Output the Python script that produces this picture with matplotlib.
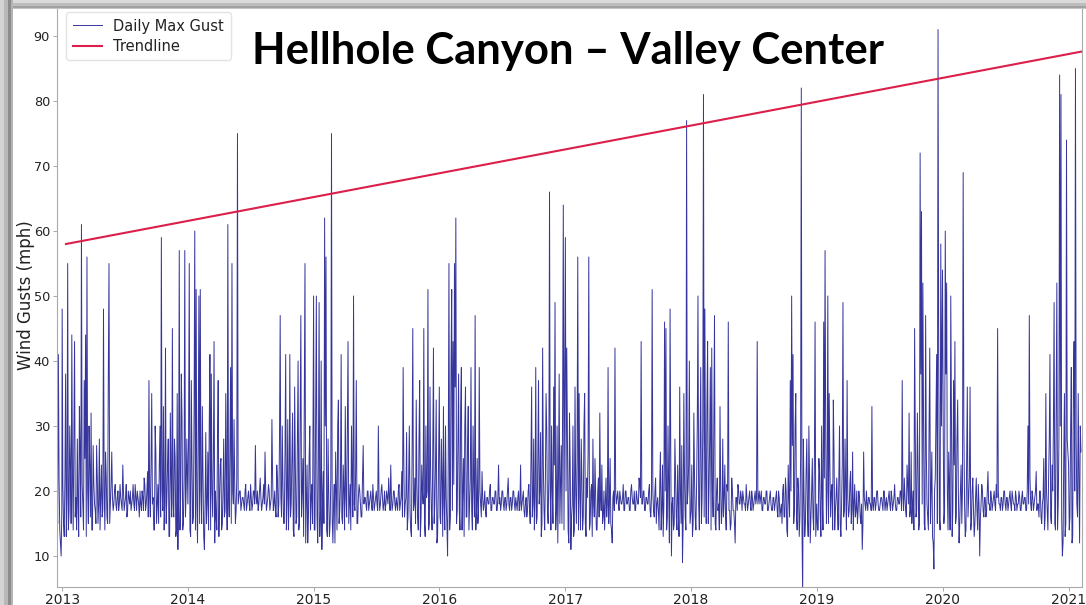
import numpy as np
import pandas as pd
import matplotlib
matplotlib.use("Agg")
import matplotlib.pyplot as plt
from matplotlib.patches import Rectangle

# ---------------- data: daily max gust, read every 2 days ----------------
# "gust_YYYY" = days 0,4,8,... of the year ; "mid_YYYY" = days 2,6,10,...
gust_2012 = [18, 41, 14, 10]
mid_2012 = [15, 22, 12, 17]

gust_2013 = [48, 15, 22, 13, 55, 17, 24, 44, 14, 43,
             19, 28, 13, 26, 61, 18, 37, 44, 56, 15,
             24, 32, 14, 21, 17, 27, 15, 28, 19, 16,
             48, 14, 22, 15, 55, 18, 26, 17, 20, 18,
             19, 17, 21, 18, 24, 17, 19, 16, 20, 18,
             17, 19, 18, 21, 17, 19, 16, 18, 20, 17,
             21, 18, 23, 37, 16, 35, 19, 14, 26, 18,
             15, 30, 59, 17, 14, 42, 19, 28, 13, 22,
             45, 16, 25, 14, 11, 57, 19, 31, 15, 57, 20]
mid_2013 = [21, 13, 38, 19, 14, 30, 15, 22, 28, 16,
            14, 18, 33, 16, 21, 14, 25, 13, 20, 30,
            16, 14, 27, 18, 15, 22, 18, 14, 24, 17,
            20, 26, 16, 38, 15, 21, 19, 18, 21, 17,
            20, 18, 19, 17, 20, 18, 21, 17, 19, 20,
            18, 21, 17, 19, 20, 18, 20, 17, 19, 22,
            17, 20, 16, 19, 24, 18, 14, 30, 15, 21,
            24, 16, 20, 33, 18, 15, 24, 13, 32, 16,
            18, 28, 13, 35, 20, 14, 38, 14, 22, 16, 28]

gust_2014 = [18, 55, 13, 24, 16, 60, 51, 12, 50, 51,
             15, 22, 11, 29, 18, 14, 41, 38, 16, 43,
             20, 14, 37, 19, 25, 15, 28, 17, 22, 61,
             16, 39, 55, 18, 21, 17, 75, 19, 20, 18,
             19, 17, 21, 18, 20, 17, 19, 18, 20, 27,
             18, 17, 20, 19, 18, 21, 26, 17, 19, 20,
             18, 31, 17, 20, 16, 22, 18, 47, 16, 21,
             15, 41, 19, 14, 41, 18, 32, 13, 24, 16,
             40, 15, 47, 20, 13, 55, 18, 12, 25, 14, 21]
mid_2014 = [28, 14, 37, 15, 32, 14, 18, 27, 15, 20,
            33, 13, 18, 15, 26, 30, 14, 20, 25, 12,
            16, 28, 13, 24, 14, 20, 16, 35, 14, 19,
            26, 15, 20, 31, 15, 22, 18, 20, 17, 19,
            18, 20, 17, 19, 18, 21, 17, 20, 18, 19,
            20, 18, 22, 17, 19, 18, 20, 18, 21, 17,
            19, 22, 18, 17, 24, 16, 28, 19, 30, 15,
            26, 14, 31, 19, 16, 25, 14, 36, 15, 28,
            14, 30, 16, 25, 33, 12, 24, 16, 30, 19, 15]

gust_2015 = [50, 14, 50, 12, 49, 17, 11, 23, 62, 56,
             13, 19, 15, 75, 12, 21, 26, 14, 34, 17,
             41, 15, 20, 33, 16, 43, 18, 14, 22, 50,
             17, 37, 15, 21, 18, 16, 27, 19, 18, 20,
             17, 19, 18, 21, 17, 19, 18, 30, 17, 20,
             19, 18, 17, 20, 18, 19, 24, 17, 20, 18,
             19, 17, 21, 18, 23, 39, 16, 19, 14, 22,
             17, 13, 45, 18, 15, 21, 14, 37, 16, 20,
             45, 13, 19, 51, 15, 22, 14, 42, 18, 34, 13]
mid_2015 = [14, 33, 16, 25, 13, 40, 19, 15, 30, 14,
            28, 13, 22, 16, 18, 12, 20, 30, 15, 21,
            16, 24, 14, 19, 29, 15, 21, 30, 16, 18,
            23, 15, 19, 20, 16, 22, 18, 19, 17, 20,
            18, 20, 17, 19, 18, 20, 17, 19, 18, 21,
            17, 20, 18, 19, 22, 17, 19, 18, 20, 17,
            18, 20, 17, 19, 16, 24, 18, 29, 16, 30,
            14, 26, 17, 22, 34, 16, 28, 13, 24, 18,
            15, 30, 20, 14, 36, 17, 26, 15, 24, 12, 20]

gust_2016 = [36, 15, 22, 33, 14, 19, 10, 55, 16, 51,
             43, 55, 62, 17, 38, 14, 39, 20, 13, 36,
             16, 33, 18, 39, 14, 21, 47, 17, 15, 39,
             18, 23, 17, 20, 16, 19, 18, 21, 17, 19,
             18, 20, 17, 24, 19, 18, 20, 17, 19, 18,
             22, 17, 19, 18, 20, 17, 18, 19, 17, 24,
             18, 20, 16, 19, 17, 21, 15, 36, 18, 14,
             39, 16, 37, 20, 13, 42, 17, 22, 29, 15,
             66, 14, 20, 36, 49, 17, 12, 38, 21, 15, 64]
mid_2016 = [16, 28, 13, 18, 30, 15, 25, 14, 39, 17,
            21, 36, 15, 28, 17, 33, 14, 25, 30, 16,
            27, 14, 22, 17, 30, 16, 14, 25, 17, 20,
            16, 19, 18, 17, 19, 18, 20, 17, 19, 18,
            20, 17, 19, 18, 17, 20, 18, 19, 17, 20,
            18, 19, 17, 20, 18, 19, 17, 20, 18, 17,
            19, 17, 18, 16, 20, 17, 24, 16, 28, 19,
            15, 25, 18, 29, 15, 24, 14, 35, 17, 22,
            20, 30, 15, 24, 14, 30, 22, 15, 27, 33, 14]

gust_2017 = [59, 42, 14, 32, 11, 18, 13, 36, 15, 56,
             35, 14, 22, 16, 35, 13, 19, 56, 15, 21,
             28, 16, 19, 14, 22, 32, 17, 15, 20, 18,
             16, 39, 19, 15, 12, 20, 42, 18, 20, 17,
             19, 18, 21, 17, 20, 18, 19, 17, 21, 18,
             20, 17, 19, 18, 21, 43, 18, 20, 17, 19,
             18, 21, 16, 51, 17, 20, 15, 19, 14, 26,
             17, 13, 46, 45, 16, 20, 48, 10, 19, 15,
             22, 14, 18, 36, 15, 9, 35, 16, 77, 20, 40]
mid_2017 = [20, 28, 12, 24, 16, 30, 14, 20, 25, 14,
            19, 28, 14, 30, 15, 22, 26, 14, 20, 13,
            18, 25, 14, 20, 16, 19, 24, 16, 14, 22,
            18, 15, 25, 14, 19, 17, 20, 19, 18, 20,
            18, 19, 17, 20, 18, 19, 17, 20, 19, 18,
            17, 20, 18, 22, 19, 18, 20, 17, 19, 18,
            20, 17, 19, 20, 16, 22, 18, 17, 21, 14,
            24, 18, 20, 14, 30, 12, 26, 18, 14, 28,
            16, 24, 13, 20, 27, 15, 22, 14, 18, 24, 15]

gust_2018 = [17, 13, 32, 16, 21, 50, 14, 39, 19, 81,
             48, 15, 43, 20, 39, 42, 16, 47, 14, 22,
             18, 33, 15, 28, 19, 16, 21, 46, 17, 15,
             20, 17, 12, 19, 21, 18, 20, 17, 19, 18,
             21, 17, 19, 18, 20, 17, 19, 18, 43, 19,
             18, 20, 17, 19, 18, 20, 17, 19, 18, 17,
             19, 18, 20, 16, 19, 17, 15, 21, 16, 20,
             13, 19, 37, 50, 41, 17, 35, 14, 20, 16,
             82, 4, 19, 15, 28, 13, 22, 16, 25, 14, 46]
mid_2018 = [24, 15, 22, 14, 30, 18, 26, 15, 30, 16,
            22, 33, 15, 28, 14, 20, 30, 15, 20, 17,
            14, 20, 17, 16, 24, 14, 20, 17, 14, 22,
            17, 15, 19, 17, 20, 18, 19, 20, 18, 17,
            19, 18, 20, 17, 19, 18, 20, 19, 18, 20,
            19, 17, 19, 18, 20, 17, 18, 20, 17, 19,
            17, 19, 17, 20, 16, 18, 20, 16, 22, 14,
            24, 16, 20, 27, 15, 30, 16, 22, 13, 25,
            14, 28, 13, 23, 16, 30, 12, 20, 16, 24, 13]

gust_2019 = [18, 14, 23, 13, 19, 46, 57, 15, 50, 35,
             16, 21, 34, 14, 19, 17, 22, 15, 18, 49,
             17, 20, 37, 16, 21, 15, 26, 18, 16, 20,
             17, 19, 15, 11, 26, 18, 20, 17, 19, 18,
             33, 17, 19, 18, 20, 17, 18, 19, 17, 20,
             18, 17, 19, 18, 20, 17, 19, 18, 17, 19,
             18, 20, 37, 17, 19, 16, 21, 32, 17, 15,
             20, 45, 16, 32, 14, 72, 63, 52, 15, 47,
             18, 14, 42, 20, 13, 8, 22, 41, 91, 16, 58]
mid_2019 = [14, 25, 16, 30, 14, 22, 28, 20, 15, 24,
            20, 14, 26, 17, 22, 14, 30, 13, 24, 16,
            28, 14, 19, 17, 23, 17, 14, 21, 17, 15,
            20, 16, 18, 15, 19, 17, 18, 19, 18, 17,
            18, 19, 17, 20, 18, 17, 19, 18, 20, 17,
            19, 18, 20, 17, 19, 18, 21, 17, 19, 18,
            20, 17, 19, 22, 17, 24, 18, 16, 26, 18,
            14, 28, 17, 24, 15, 38, 18, 30, 14, 26,
            16, 30, 15, 26, 12, 20, 32, 15, 40, 14, 30]

gust_2020 = [54, 15, 60, 52, 14, 21, 50, 13, 37, 43,
             16, 34, 12, 20, 15, 69, 18, 14, 36, 19,
             36, 15, 22, 13, 19, 17, 21, 10, 18, 20,
             16, 19, 17, 23, 18, 20, 17, 19, 18, 21,
             45, 18, 17, 19, 18, 20, 17, 19, 18, 20,
             17, 19, 18, 20, 17, 18, 19, 17, 20, 18,
             19, 17, 30, 47, 18, 20, 17, 19, 23, 18,
             16, 20, 15, 19, 14, 35, 17, 22, 41, 15,
             20, 49, 14, 52, 18, 84, 81, 10, 25, 13, 74]
mid_2020 = [30, 17, 38, 20, 26, 14, 30, 17, 24, 15,
            28, 20, 15, 24, 20, 30, 13, 24, 16, 22,
            14, 20, 17, 15, 22, 14, 18, 16, 21, 17,
            19, 16, 20, 18, 17, 19, 18, 20, 17, 19,
            20, 18, 19, 17, 20, 18, 19, 17, 19, 18,
            20, 18, 17, 19, 18, 20, 17, 19, 18, 19,
            17, 20, 18, 22, 17, 19, 18, 20, 17, 18,
            20, 16, 18, 25, 16, 20, 14, 28, 16, 24,
            30, 15, 33, 14, 28, 30, 16, 12, 35, 15, 28]

gust_2021 = [24, 16, 39, 13, 43, 85, 18, 35, 12, 26]
mid_2021 = [14, 30, 12, 36, 20, 28, 16, 22, 30]

series_starts = ["2012-12-17", "2013-01-01", "2014-01-01", "2015-01-01", "2016-01-01",
                 "2017-01-01", "2018-01-01", "2019-01-01", "2020-01-01", "2021-01-01"]
series_values = [gust_2012, gust_2013, gust_2014, gust_2015, gust_2016,
                 gust_2017, gust_2018, gust_2019, gust_2020, gust_2021]
series_mid = [mid_2012, mid_2013, mid_2014, mid_2015, mid_2016,
              mid_2017, mid_2018, mid_2019, mid_2020, mid_2021]

trend_dates = ["2013-01-12", "2021-02-07"]
trend_values = [58.0, 87.6]

year_ticks = ["2013", "2014", "2015", "2016", "2017", "2018", "2019", "2020", "2021"]
y_ticks = [10, 20, 30, 40, 50, 60, 70, 80, 90]

title_text = "Hellhole Canyon \u2013 Valley Center"

# ---------------- build series ----------------
parts = []
for start, v, m in zip(series_starts, series_values, series_mid):
    s0 = pd.Timestamp(start)
    parts.append(pd.Series(v, index=pd.date_range(start=s0, periods=len(v), freq="4D")))
    parts.append(pd.Series(m, index=pd.date_range(start=s0 + pd.Timedelta(days=2),
                                                   periods=len(m), freq="4D")))
gust = pd.concat(parts).sort_index()

# ---------------- figure ----------------
W, H = 1086, 605
fig = plt.figure(figsize=(W / 100, H / 100), dpi=100, facecolor="white")

def fx(px):
    return px / W

def fy(py):
    return 1 - py / H

ax_left, ax_right, ax_bottom, ax_top = 57, 1082, 587, -10
ax = fig.add_axes([fx(ax_left), fy(ax_bottom), fx(ax_right - ax_left), (ax_bottom - ax_top) / H])

ax.plot(gust.index, gust.values, color="#12128c", lw=0.7, alpha=0.85, label="Daily Max Gust")
ax.plot(pd.to_datetime(trend_dates), trend_values, color="#dc1f4a", lw=1.5, label="Trendline")

ax.set_xlim(pd.Timestamp("2012-12-17"), pd.Timestamp("2021-02-09"))
ax.set_ylim(5.23, 97.08)
ax.set_yticks(y_ticks)
ax.set_yticklabels([str(t) for t in y_ticks])
ax.set_xticks(pd.to_datetime([f"{y}-01-01" for y in year_ticks]))
ax.set_xticklabels(year_ticks)
ax.tick_params(axis="both", labelcolor="#222222", length=3, width=0.6, color="#999999")
ax.tick_params(axis="x", labelsize=10, pad=1)
ax.tick_params(axis="y", labelsize=9.3, pad=2)

ax.spines["top"].set_visible(False)
for side in ["left", "bottom", "right"]:
    ax.spines[side].set_color("#aaaaaa")
    ax.spines[side].set_linewidth(0.8)

ax.set_ylabel("Wind Gusts (mph)", fontsize=12, color="#222222", va="center")
ax.yaxis.set_label_coords((26 - ax_left) / (ax_right - ax_left), (ax_bottom - 295) / (ax_bottom - ax_top))

leg = ax.legend(loc="upper left", bbox_to_anchor=(fx(66), fy(12)), bbox_transform=fig.transFigure,
                borderaxespad=0, fontsize=10.5, frameon=True, fancybox=True,
                edgecolor="#dddddd", handlelength=2.0, borderpad=0.45, labelspacing=0.35)
for t in leg.get_texts():
    t.set_color("#222222")

# title
title = fig.text(fx(568), fy(64), title_text, ha="center", va="baseline",
                 fontsize=31, fontweight="bold", family="Lato", color="black")
fig.canvas.draw()
bb = title.get_window_extent()
title.set_fontsize(31 * 631 / bb.width)

# screenshot-like shadow frame
left_bands = [(0, 4, "#d4d4d4"), (4, 8, "#b8b8b8"), (8, 11, "#8c8c8c"), (11, 13, "#b4b4b4")]
for x0, x1, c in left_bands:
    fig.patches.append(Rectangle((fx(x0), 0), fx(x1 - x0), 1, transform=fig.transFigure,
                                 color=c, zorder=10, lw=0))
top_bands = [(0, 3, "#dadada"), (3, 6, "#bdbdbd"), (6, 8, "#a2a2a2"), (8, 9, "#c4c4c4")]
for y0, y1, c in top_bands:
    fig.patches.append(Rectangle((fx(13), fy(y1)), 1, (y1 - y0) / H, transform=fig.transFigure,
                                 color=c, zorder=10, lw=0))

fig.savefig("out.png", dpi=100, facecolor="white")
